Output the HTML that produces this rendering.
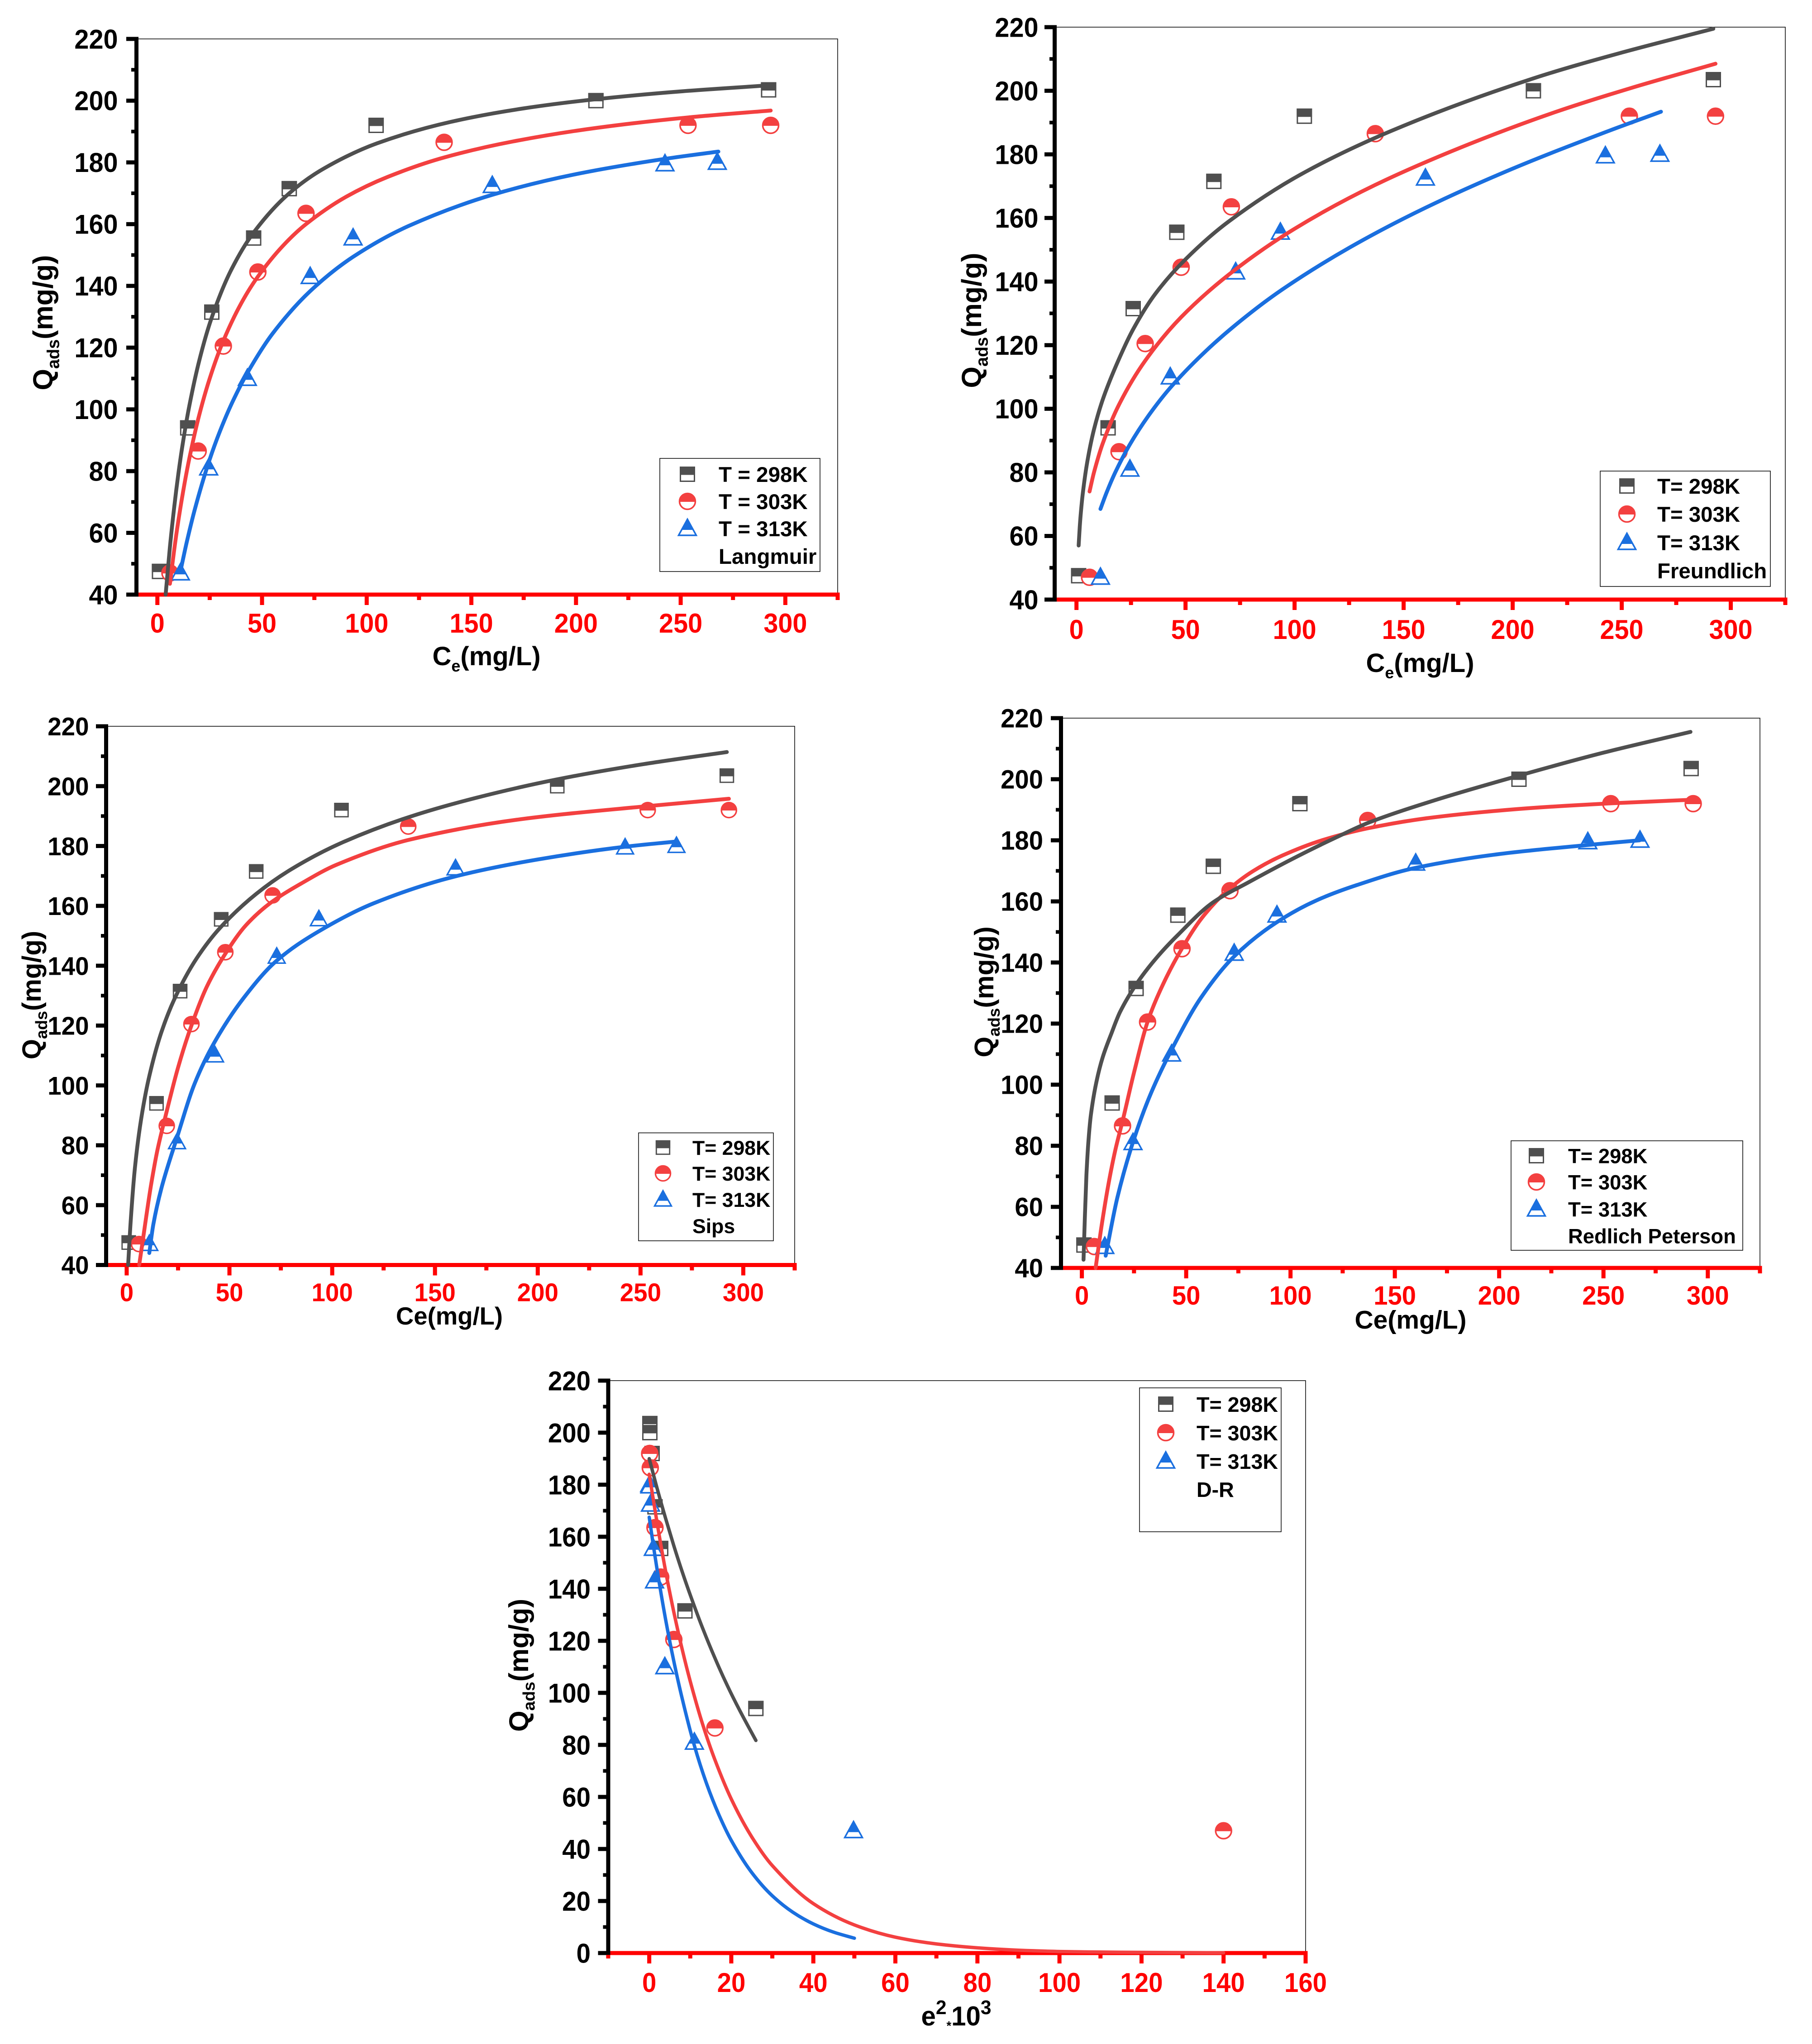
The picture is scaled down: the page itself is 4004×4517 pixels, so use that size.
<!DOCTYPE html>
<html lang="en">
<head>
<meta charset="utf-8">
<title>Adsorption isotherm fits</title>
<style>
html,body{margin:0;padding:0;background:#fff;}
svg{display:block;}
text{font-family:"Liberation Sans",Arial,sans-serif;font-weight:bold;}
</style>
</head>
<body>
<svg id="figure" xmlns="http://www.w3.org/2000/svg" width="4004" height="4517" viewBox="0 0 4004 4517"></svg>
<script>
// ---------- shared measured data ----------
const ce298 = [1, 14.5, 26, 46, 63, 104.5, 209.5, 292];
const q298 = [47.5, 94, 131.5, 155.5, 171.5, 192, 200, 203.5];
const ce303 = [6, 19.5, 31.5, 48, 71, 137, 253.5, 293];
const q303 = [47, 86.5, 120.5, 144.5, 163.5, 186.5, 192, 192];
const ce313 = [11, 24.5, 43, 73, 93.5, 160, 242.5, 267.5];
const q313 = [47, 81, 110, 143, 155.5, 172.5, 179.5, 180];

// D-R measured data
const eps298 = [0.15, 0.15, 0.7, 1.4, 2.8, 8.7, 26];
const drq298 = [203.5, 200, 192, 171.5, 155.5, 131.5, 94];
const eps303 = [0.1, 0.1, 0.25, 1.4, 2.8, 6, 16, 140];
const drq303 = [192, 192, 186.5, 163.5, 144.5, 120.5, 86.5, 47];
const eps313 = [0.1, 0.15, 0.3, 1, 1.3, 3.8, 11, 49.8];
const drq313 = [180, 179.5, 172.5, 155.5, 143, 110, 81, 47];

// ---------- fitted curves ----------
const langmuirX298 = [3.95, 6, 8, 10, 12, 15, 20, 26, 35, 46, 63, 80, 105, 140, 175, 210, 250, 293];
const langmuirY298 = [40, 55.5, 68.1, 79, 88.4, 100.2, 115.8, 129.8, 144.8, 157.3, 170, 178.2, 186.2, 193.1, 197.5, 200.5, 203, 205];
const langmuirX303 = [6, 8, 10, 13, 16, 20, 25, 31.5, 40, 48, 60, 71, 90, 110, 137, 170, 210, 254, 293];
const langmuirY303 = [43.5, 54.3, 63.8, 76.1, 86.5, 98.2, 110, 122.2, 134.3, 143, 153, 160, 168.8, 175.3, 181.6, 186.8, 191.2, 194.6, 196.8];
const langmuirX313 = [11, 14, 18, 24.5, 30, 36, 43, 55, 73, 93.5, 120, 160, 200, 243, 268];
const langmuirY313 = [47.5, 56.9, 67.9, 82.8, 93.1, 102.6, 111.8, 124.5, 138.3, 149.4, 159.4, 169.5, 176.2, 181.2, 183.5];

const freundlichX298 = [1, 1.5, 2, 3, 5, 8, 12, 18, 26, 36, 50, 70, 105, 150, 210, 250, 292];
const freundlichY298 = [57, 62.8, 67.2, 74, 83.5, 93.4, 102.8, 113.3, 125, 136, 147, 159, 174.5, 189, 204, 212, 219.5];
const freundlichX303 = [6, 8, 12, 19.5, 31.5, 48, 71, 100, 137, 180, 220, 254, 293];
const freundlichY303 = [74, 79.9, 89, 101.3, 115.1, 128.8, 142.8, 156.6, 170.4, 183.2, 193.4, 200.8, 208.5];
const freundlichX313 = [11, 14, 18, 24.5, 33, 43, 58, 73, 93.5, 125, 160, 200, 243, 268];
const freundlichY313 = [68.5, 74, 80.3, 88.8, 97.8, 106.6, 117.3, 126.4, 137.1, 150.6, 163.2, 175.5, 187.1, 193.4];

const sipsX298 = [0.7, 2, 4, 7, 11, 17, 24, 34, 45.5, 63, 80, 104, 137, 170, 209, 250, 292];
const sipsY298 = [40, 55.1, 72.4, 88.6, 103.1, 118, 130, 142.4, 152.7, 164, 172.2, 180.9, 189.6, 196.1, 202.2, 207.2, 211.4];
const sipsX303 = [6.1, 8, 11.8, 15, 19, 25, 31.5, 39, 48, 58, 70, 85, 102, 137, 190, 253, 293];
const sipsY303 = [40, 49, 66.5, 78.5, 90, 106, 120, 133, 144, 153.5, 161, 167.5, 173.7, 182, 188.8, 193.3, 195.8];
const sipsX313 = [11, 13, 17, 24.4, 33, 42.7, 57, 73, 93, 120, 159, 200, 243, 267.5];
const sipsY313 = [44, 53.7, 65.9, 82.4, 100.5, 114.4, 129.3, 141.7, 151.3, 160.8, 169.7, 175.5, 179.8, 181.5];

const redlichX298 = [0.8, 1.4, 2.2, 3.2, 4.4, 7, 10, 14, 18.3, 26.6, 36, 46, 62.7, 80, 104, 122, 137.5, 170, 209.6, 250, 291.7];
const redlichY298 = [42.7, 56, 70.5, 82, 90.5, 101, 109, 116.5, 123.8, 133.4, 141.7, 149, 159.6, 166.3, 175, 181, 185.8, 193.3, 201.2, 208.7, 215.5];
const redlichX303 = [6.6, 9.5, 12.8, 16, 19.7, 25, 31.6, 39, 48, 58, 70, 82, 96, 115, 137.5, 165, 193, 220, 253.4, 293];
const redlichY303 = [40, 54, 67.6, 78.5, 88.6, 104, 120.8, 133, 144.6, 155, 163.7, 169.9, 175, 180, 184, 187.2, 189.3, 190.8, 192.1, 193.3];
const redlichX313 = [11.4, 17, 24.7, 33, 43.2, 57, 73, 93, 112, 132, 160, 200, 243, 267.3];
const redlichY313 = [44, 63, 81.6, 97, 111.7, 128.4, 142, 153, 160.2, 165.4, 171, 175.5, 178.5, 180];

const drX298 = [0, 2, 4, 6, 8, 10, 13, 16, 19, 22, 26];
const drY298 = [190, 178.1, 167, 156.5, 146.7, 137.6, 124.9, 113.4, 102.9, 93.4, 81.7];
const drX303 = [0, 2, 4, 6, 8, 10, 13, 16, 20, 25, 30, 40, 50, 60, 70, 80, 90, 100, 115, 140];
const drY303 = [184, 164.5, 146.7, 131, 116.9, 104.4, 88, 74.3, 59.2, 44.6, 33.6, 19, 10.8, 6.1, 3.5, 2, 1.1, 0.6, 0.3, 0.1];
const drX313 = [0, 1, 2, 4, 6, 8, 11, 14, 17, 20, 25, 30, 35, 40, 45, 50];
const drY313 = [167.5, 156.6, 146.5, 128.1, 112.1, 98, 79.7, 65, 53.1, 43.3, 30.9, 22, 15.7, 11.2, 8, 5.7];

// ---------- axis tick labels ----------
const ceTickLabels = ['0', '50', '100', '150', '200', '250', '300'];
const ceMinorTicks = [25, 75, 125, 175, 225, 275, 325];
const qTickLabels = ['40', '60', '80', '100', '120', '140', '160', '180', '200', '220'];
const qMinorTicks = [50, 70, 90, 110, 130, 150, 170, 190, 210];
const epsTickLabels = ['0', '20', '40', '60', '80', '100', '120', '140', '160'];
const epsMinorTicks = [-10, 10, 30, 50, 70, 90, 110, 130, 150];
const drqTickLabels = ['0', '20', '40', '60', '80', '100', '120', '140', '160', '180', '200', '220'];
const drqMinorTicks = [10, 30, 50, 70, 90, 110, 130, 150, 170, 190, 210];

// ---------- series styling ----------
const GRAY = '#4f4f4f', RED = '#f34040', BLUE = '#1a6fdf';
const SVGNS = 'http://www.w3.org/2000/svg';
const fig = document.getElementById('figure');

function mk(tag, parent, attrs) {
  const el = document.createElementNS(SVGNS, tag);
  for (const k in attrs) el.setAttribute(k, attrs[k]);
  parent.appendChild(el);
  return el;
}

function named(el, name) {
  
  
  return el;
}

function label(parent, x, y, str, size, anchor, fill, sx) {
  const t = mk('text', parent, {
    transform: 'translate(' + x + ' ' + y + ') scale(' + sx + ' 1)',
    'font-size': size, 'text-anchor': anchor, fill: fill
  });
  t.textContent = str;
  return t;
}

// segments: [text, kind] where kind 0 = normal, 1 = subscript, 2 = superscript, 3 = small lowered symbol
function richTitle(parent, transform, size, segments) {
  const t = mk('text', parent, {transform: transform, 'font-size': size, 'text-anchor': 'middle', fill: '#000'});
  const offs = [0, 0.24, -0.42, 0.17];
  const scales = [1, 0.62, 0.73, 0.47];
  let cur = 0;
  segments.forEach(function (s) {
    const target = offs[s[1]] * size;
    const ts = mk('tspan', t, {dy: target - cur, 'font-size': size * scales[s[1]]});
    ts.textContent = s[0];
    cur = target;
  });
  return t;
}

function smoothPath(xs, ys) {
  // monotone cubic through the read points
  const n = xs.length, d = [], m = [];
  for (let i = 0; i < n - 1; i++) d.push((ys[i + 1] - ys[i]) / (xs[i + 1] - xs[i]));
  m.push(d[0]);
  for (let i = 1; i < n - 1; i++) {
    m.push(d[i - 1] * d[i] <= 0 ? 0 : 2 * d[i - 1] * d[i] / (d[i - 1] + d[i]));
  }
  m.push(d[n - 2]);
  let p = 'M' + xs[0].toFixed(1) + ' ' + ys[0].toFixed(1);
  for (let i = 0; i < n - 1; i++) {
    const h = (xs[i + 1] - xs[i]) / 3;
    p += 'C' + (xs[i] + h).toFixed(1) + ' ' + (ys[i] + m[i] * h).toFixed(1) + ' ' +
      (xs[i + 1] - h).toFixed(1) + ' ' + (ys[i + 1] - m[i + 1] * h).toFixed(1) + ' ' +
      xs[i + 1].toFixed(1) + ' ' + ys[i + 1].toFixed(1);
  }
  return p;
}

function marker(parent, kind, cx, cy, color, scale) {
  const lift = kind === 'triangle' ? 4 : 0;
  const g = mk('g', parent, {
    transform: 'translate(' + cx.toFixed(1) + ' ' + (cy - lift).toFixed(1) + ') scale(' + scale + ')'
  });
  if (kind === 'square') {
    mk('rect', g, {x: -15.5, y: -15.5, width: 31, height: 31, fill: '#fff', stroke: color, 'stroke-width': 3});
    mk('rect', g, {x: -17, y: -17, width: 34, height: 18.5, fill: color});
  } else if (kind === 'circle') {
    mk('circle', g, {cx: 0, cy: 0, r: 17.5, fill: '#fff', stroke: color, 'stroke-width': 3.5});
    mk('path', g, {d: 'M-19 1A19 19 0 0 1 19 1Z', fill: color});
  } else {
    mk('polygon', g, {points: '0,-16.5 19.5,19 -19.5,19', fill: '#fff', stroke: color, 'stroke-width': 3.5});
    mk('polygon', g, {points: '0,-19.5 13.5,7 -13.5,7', fill: color});
  }
  return g;
}

function drawPanel(cfg) {
  const root = mk('g', fig, {});
  named(root, cfg.id + '-chart');
  const sx = function (v) { return cfg.left + (v - cfg.xMin) / (cfg.xMax - cfg.xMin) * (cfg.right - cfg.left); };
  const sy = function (v) { return cfg.bottom - (v - cfg.yMin) / (cfg.yMax - cfg.yMin) * (cfg.bottom - cfg.top); };

  const frame = mk('path', root, {
    d: 'M' + cfg.left + ' ' + cfg.top + 'H' + cfg.right + 'V' + cfg.bottom,
    fill: 'none', stroke: '#000', 'stroke-width': 1.5
  });
  named(frame, 'plot-frame');

  const markerLayer = mk('g', root, {});
  named(markerLayer, 'data-markers');
  cfg.points.forEach(function (s) {
    s.x.forEach(function (v, i) {
      const m = marker(markerLayer, s.kind, sx(v), sy(s.y[i]), s.color, cfg.markerScale);
      
      
    });
  });

  // y axis
  const yAxis = mk('g', root, {});
  named(yAxis, 'y-axis');
  mk('rect', yAxis, {x: cfg.left - 4.5, y: cfg.top - 4.5, width: 9, height: cfg.bottom - cfg.top + 9, fill: '#000'});
  cfg.yLabels.forEach(function (s) {
    const v = Number(s);
    mk('rect', yAxis, {x: cfg.left - 22.5, y: sy(v) - 4.5, width: 18, height: 9, fill: '#000'});
    const t = label(yAxis, cfg.left + cfg.yLabelGap, sy(v) + cfg.tickSize * 0.355, s, cfg.tickSize, 'end', '#000', cfg.tickScale);
    
    
  });
  cfg.yMinor.forEach(function (v) {
    mk('rect', yAxis, {x: cfg.left - 11.5, y: sy(v) - 4, width: 7, height: 8, fill: '#000'});
  });

  // x axis
  const xAxis = mk('g', root, {});
  named(xAxis, 'x-axis');
  mk('rect', xAxis, {x: cfg.left + 4.5, y: cfg.bottom - 4.5, width: cfg.right - cfg.left, height: 9, fill: '#f00'});
  cfg.xLabels.forEach(function (s) {
    const v = Number(s);
    mk('rect', xAxis, {x: sx(v) - 4.5, y: cfg.bottom + 4, width: 9, height: 19, fill: '#f00'});
    const t = label(xAxis, sx(v), cfg.bottom + cfg.xLabelGap, s, cfg.tickSize, 'middle', '#f00', cfg.tickScale);
    
    
  });
  cfg.xMinor.forEach(function (v) {
    mk('rect', xAxis, {x: sx(v) - 4.5, y: cfg.bottom + 4, width: 9, height: 8, fill: '#f00'});
  });

  // curves sit above the axis lines
  const curveLayer = mk('g', root, {});
  named(curveLayer, 'fit-curves');
  cfg.curves.slice().reverse().forEach(function (c) {
    const path = mk('path', curveLayer, {
      d: smoothPath(c.x.map(sx), c.y.map(sy)), fill: 'none', stroke: c.color,
      'stroke-width': cfg.lineWidth, 'stroke-linecap': 'round', 'stroke-linejoin': 'round'
    });
    
    
  });

  // axis titles
  const xTitle = richTitle(root, 'translate(' + cfg.xTitle[0] + ' ' + cfg.xTitle[1] + ') scale(' + cfg.xTitleScale + ' 1)', cfg.titleSize, cfg.xTitleText);
  
  
  const yTitle = richTitle(root, 'translate(' + cfg.yTitle[0] + ' ' + cfg.yTitle[1] + ') rotate(-90)', cfg.yTitleSize, [['Q', 0], ['ads', 1], ['(mg/g)', 0]]);
  
  

  // legend
  const lg = mk('g', root, {});
  named(lg, 'legend');
  const b = cfg.legend.box;
  mk('rect', lg, {x: b[0], y: b[1], width: b[2] - b[0], height: b[3] - b[1], fill: '#fff', stroke: '#000', 'stroke-width': 1.5});
  cfg.legend.rows.forEach(function (text, i) {
    const rowY = cfg.legend.y[i];
    const t = label(lg, cfg.legend.textX, rowY + cfg.legend.size * 0.36, text, cfg.legend.size, 'start', '#000', 1);
    
    
    if (cfg.points[i]) marker(lg, cfg.points[i].kind, cfg.legend.markerX, rowY, cfg.points[i].color, cfg.markerScale);
  });
}

function isothermSeries(x298, y298, x303, y303, x313, y313) {
  return [
    {temp: '298k', color: GRAY, x: x298, y: y298},
    {temp: '303k', color: RED, x: x303, y: y303},
    {temp: '313k', color: BLUE, x: x313, y: y313}
  ];
}

const cePoints = [
  {temp: '298k', kind: 'square', color: GRAY, x: ce298, y: q298},
  {temp: '303k', kind: 'circle', color: RED, x: ce303, y: q303},
  {temp: '313k', kind: 'triangle', color: BLUE, x: ce313, y: q313}
];
const drPoints = [
  {temp: '298k', kind: 'square', color: GRAY, x: eps298, y: drq298},
  {temp: '303k', kind: 'circle', color: RED, x: eps303, y: drq303},
  {temp: '313k', kind: 'triangle', color: BLUE, x: eps313, y: drq313}
];

const ceCommon = {
  xMin: -10, xMax: 325, yMin: 40, yMax: 220, points: cePoints, markerScale: 1, xTitleScale: 1,
  xLabels: ceTickLabels, xMinor: ceMinorTicks, yLabels: qTickLabels, yMinor: qMinorTicks
};

drawPanel(Object.assign({}, ceCommon, {
  id: 'langmuir', left: 301.5, right: 1851, top: 86, bottom: 1314,
  lineWidth: 8.5, tickSize: 60, tickScale: 0.96, yLabelGap: -41, xLabelGap: 84,
  titleSize: 58, yTitleSize: 61, xTitle: [1075, 1470], yTitle: [116, 713],
  xTitleText: [['C', 0], ['e', 1], ['(mg/L)', 0]],
  curves: isothermSeries(langmuirX298, langmuirY298, langmuirX303, langmuirY303, langmuirX313, langmuirY313),
  legend: {box: [1458, 1013, 1812, 1263], markerX: 1519, textX: 1588, size: 47.5,
    y: [1048, 1108, 1168, 1229], rows: ['T = 298K', 'T = 303K', 'T = 313K', 'Langmuir']}
}));

drawPanel(Object.assign({}, ceCommon, {
  id: 'freundlich', left: 2330.5, right: 3945, top: 60, bottom: 1325,
  lineWidth: 8.5, tickSize: 60, tickScale: 0.96, yLabelGap: -36, xLabelGap: 87,
  titleSize: 58, yTitleSize: 61, xTitle: [3138, 1485], yTitle: [2168, 708],
  xTitleText: [['C', 0], ['e', 1], ['(mg/L)', 0]],
  curves: isothermSeries(freundlichX298, freundlichY298, freundlichX303, freundlichY303, freundlichX313, freundlichY313),
  legend: {box: [3536, 1041, 3912, 1296], markerX: 3595, textX: 3662, size: 47.4,
    y: [1074, 1136, 1199, 1261], rows: ['T= 298K', 'T= 303K', 'T= 313K', 'Freundlich']}
}));

drawPanel(Object.assign({}, ceCommon, {
  id: 'sips', left: 234.5, right: 1756, top: 1605, bottom: 2795.5, markerScale: 0.95,
  lineWidth: 8.5, tickSize: 57, tickScale: 0.96, yLabelGap: -38, xLabelGap: 80,
  titleSize: 54.5, yTitleSize: 58, xTitle: [993, 2927], yTitle: [90, 2199],
  xTitleText: [['Ce(mg/L)', 0]],
  curves: isothermSeries(sipsX298, sipsY298, sipsX303, sipsY303, sipsX313, sipsY313),
  legend: {box: [1411, 2503.5, 1709, 2742], markerX: 1465, textX: 1530, size: 44.6,
    y: [2536, 2593, 2651, 2709], rows: ['T= 298K', 'T= 303K', 'T= 313K', 'Sips']}
}));

drawPanel(Object.assign({}, ceCommon, {
  id: 'redlich-peterson', left: 2344.5, right: 3889, top: 1587, bottom: 2802,
  lineWidth: 8.5, tickSize: 58, tickScale: 0.97, yLabelGap: -39.5, xLabelGap: 81,
  titleSize: 57, yTitleSize: 59, xTitle: [3117, 2936], yTitle: [2195, 2192],
  xTitleText: [['Ce(mg/L)', 0]],
  curves: isothermSeries(redlichX298, redlichY298, redlichX303, redlichY303, redlichX313, redlichY313),
  legend: {box: [3339, 2521, 3851, 2763], markerX: 3395, textX: 3465, size: 45.4,
    y: [2554, 2612, 2672, 2731], rows: ['T= 298K', 'T= 303K', 'T= 313K', 'Redlich Peterson']}
}));

drawPanel({
  id: 'dubinin-radushkevich', left: 1344, right: 2885, top: 3051, bottom: 4316,
  xMin: -10, xMax: 160, yMin: 0, yMax: 220, points: drPoints, markerScale: 1, xTitleScale: 0.97,
  xLabels: epsTickLabels, xMinor: epsMinorTicks, yLabels: drqTickLabels, yMinor: drqMinorTicks,
  lineWidth: 7.5, tickSize: 60, tickScale: 0.94, yLabelGap: -39, xLabelGap: 86,
  titleSize: 60, yTitleSize: 60, xTitle: [2113, 4476], yTitle: [1167, 3680],
  xTitleText: [['e', 0], ['2', 2], ['*', 3], ['10', 0], ['3', 2]],
  curves: isothermSeries(drX298, drY298, drX303, drY303, drX313, drY313),
  legend: {box: [2518, 3067, 2831, 3385], markerX: 2576, textX: 2644, size: 46.6,
    y: [3103, 3166, 3229, 3291], rows: ['T= 298K', 'T= 303K', 'T= 313K', 'D-R']}
});
</script>
</body>
</html>
